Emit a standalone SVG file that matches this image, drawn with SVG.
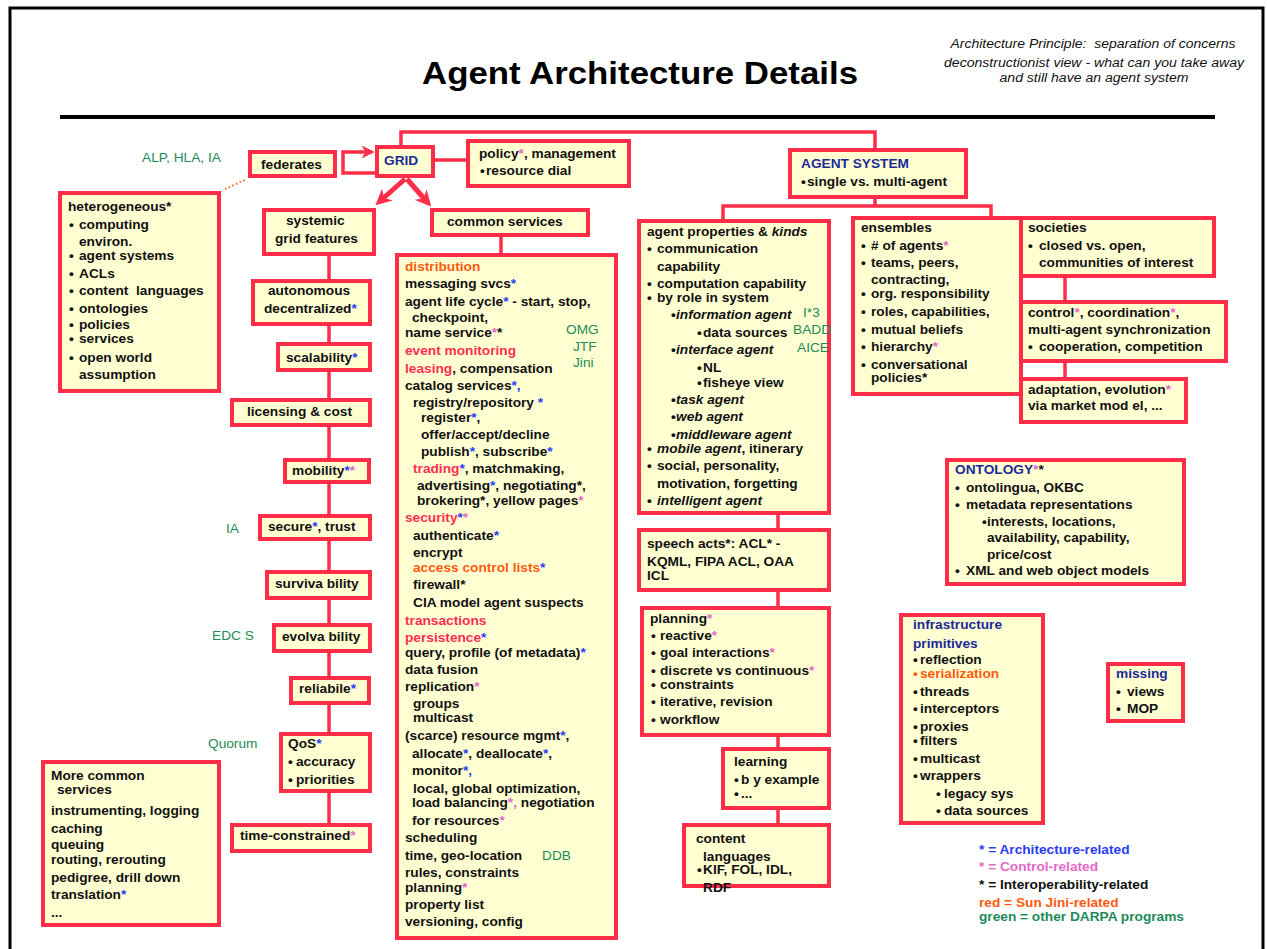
<svg xmlns="http://www.w3.org/2000/svg" width="1267" height="949" viewBox="0 0 1267 949">
<defs>
<style>
.box{fill:#ffffd2;stroke:#ff2d48;stroke-width:4}
.c{fill:none;stroke:#ff2d48;stroke-width:3.5}
.t{font-family:"Liberation Sans",Arial,sans-serif;font-weight:bold;font-size:13.7px;fill:#111}
.g{font-family:"Liberation Sans",Arial,sans-serif;font-size:13.7px;fill:#1e8a5a}
.b{fill:#2b3cf5}.p{fill:#e46ac8}.o{fill:#ff5a10}.r{fill:#ff2d55}.n{fill:#1c2a99}.gr{fill:#1e8a5a}
.i{font-style:italic}
.sub{font-family:"Liberation Sans",Arial,sans-serif;font-style:italic;font-size:12px;fill:#111}
</style>
<marker id="big" viewBox="0 0 10 10" refX="7" refY="5" markerWidth="16" markerHeight="16" markerUnits="userSpaceOnUse" orient="auto"><path d="M0,0 L10,5 L0,10 L3,5 z" fill="#ff2d48"/></marker>
<marker id="sm" viewBox="0 0 10 10" refX="8" refY="5" markerWidth="13" markerHeight="13" markerUnits="userSpaceOnUse" orient="auto"><path d="M0,0 L10,5 L0,10 L3,5 z" fill="#ff2d48"/></marker>
</defs>
<rect x="10" y="8" width="1253" height="960" fill="#fff" stroke="#000" stroke-width="3"/>
<g id="title">
<text x="640" y="84" text-anchor="middle" textLength="436" lengthAdjust="spacingAndGlyphs" style="font-family:'Liberation Sans',Arial,sans-serif;font-weight:bold;font-size:32px;fill:#000">Agent Architecture Details</text>
<text class="sub" x="1093" y="48" text-anchor="middle" textLength="285" lengthAdjust="spacingAndGlyphs">Architecture Principle:&#160; separation of concerns</text>
<text class="sub" x="1094" y="67" text-anchor="middle" textLength="300" lengthAdjust="spacingAndGlyphs">deconstructionist view - what can you take away</text>
<text class="sub" x="1094" y="82" text-anchor="middle" textLength="189" lengthAdjust="spacingAndGlyphs">and still have an agent system</text>
<line x1="60" y1="117" x2="1215" y2="117" stroke="#000" stroke-width="4"/>
</g>
<g id="connectors">
<path class="c" d="M401,145 V132 H875 V150"/>
<path class="c" d="M875,199 V206 H723 V221 M875,206 H991 V218"/>
<path class="c" d="M435,160 H468"/>
<path class="c" d="M377,173 H343 V152 H372" marker-end="url(#sm)" stroke-width="4"/>
<line x1="405" y1="179" x2="379" y2="202" stroke="#ff2d48" stroke-width="5" marker-end="url(#big)"/>
<line x1="407" y1="179" x2="428" y2="203" stroke="#ff2d48" stroke-width="5" marker-end="url(#big)"/>
<line x1="329" y1="254" x2="329" y2="825" class="c"/>
<line x1="501" y1="235" x2="501" y2="255" class="c"/>
<path class="c" d="M770,500 H778 V530"/>
<line x1="778" y1="590" x2="778" y2="608" class="c"/>
<line x1="778" y1="735" x2="778" y2="749" class="c"/>
<line x1="778" y1="808" x2="778" y2="825" class="c"/>
<line x1="1065" y1="276" x2="1065" y2="302" class="c"/>
<line x1="1065" y1="361" x2="1065" y2="379" class="c"/>
<line x1="225" y1="189" x2="245" y2="180" stroke="#ff6020" stroke-width="2" stroke-dasharray="1.5 2.5"/>
</g>
<g id="federates">
<text class="g" x="142" y="162">ALP, HLA, IA</text>
<rect class="box" x="250" y="152" width="85" height="24"/>
<text class="t" x="261" y="169">federates</text>
</g>
<g id="grid">
<rect class="box" x="377" y="147" width="56" height="29"/>
<text class="t n" x="384" y="165">GRID</text>
</g>
<g id="policy">
<rect class="box" x="468" y="141" width="161" height="45"/>
<text class="t" x="479" y="158">policy<tspan class="p">*</tspan>, management</text>
<text class="t" x="480" y="175">•<tspan x="486">resource dial</tspan></text>
</g>
<g id="agent-system">
<rect class="box" x="790" y="150" width="176" height="47"/>
<text class="t n" x="801" y="168">AGENT SYSTEM</text>
<text class="t" x="801" y="186">•<tspan x="807">single vs. multi-agent</tspan></text>
</g>
<g id="heterogeneous">
<rect class="box" x="60" y="193" width="159" height="198"/>
<text class="t" x="68" y="211">heterogeneous*</text>
<text class="t"><tspan x="69" y="229">•</tspan><tspan x="79" y="229">computing</tspan><tspan x="79" y="246">environ.</tspan><tspan x="69" y="260">•</tspan><tspan x="79" y="260">agent systems</tspan><tspan x="69" y="278">•</tspan><tspan x="79" y="278">ACLs</tspan><tspan x="69" y="295">•</tspan><tspan x="79" y="295">content&#160; languages</tspan><tspan x="69" y="313">•</tspan><tspan x="79" y="313">ontologies</tspan><tspan x="69" y="329">•</tspan><tspan x="79" y="329">policies</tspan><tspan x="69" y="343">•</tspan><tspan x="79" y="343">services</tspan><tspan x="69" y="362">•</tspan><tspan x="79" y="362">open world</tspan><tspan x="79" y="379">assumption</tspan></text>
</g>
<g id="systemic">
<rect class="box" x="264" y="210" width="110" height="44"/>
<text class="t" x="286" y="225">systemic</text>
<text class="t" x="275" y="243">grid features</text>
</g>
<g id="autonomous">
<rect class="box" x="253" y="281" width="117" height="43"/>
<text class="t" x="268" y="295">autonomous</text>
<text class="t" x="264" y="313">decentralized<tspan class="b">*</tspan></text>
</g>
<g id="scalability">
<rect class="box" x="278" y="344" width="92" height="26"/>
<text class="t" x="286" y="362">scalability<tspan class="b">*</tspan></text>
</g>
<g id="licensing">
<rect class="box" x="232" y="400" width="138" height="25"/>
<text class="t" x="247" y="416">licensing &amp; cost</text>
</g>
<g id="mobility">
<rect class="box" x="285" y="460" width="84" height="22"/>
<text class="t" x="292" y="475">mobility<tspan class="b">*</tspan><tspan class="p">*</tspan></text>
</g>
<g id="secure">
<text class="g" x="226" y="533">IA</text>
<rect class="box" x="260" y="516" width="110" height="23"/>
<text class="t" x="268" y="531">secure<tspan class="b">*</tspan>, trust</text>
</g>
<g id="survivability">
<rect class="box" x="267" y="572" width="103" height="26"/>
<text class="t" x="275" y="588">surviva bility</text>
</g>
<g id="evolvability">
<text class="g" x="212" y="640">EDC S</text>
<rect class="box" x="274" y="625" width="96" height="26"/>
<text class="t" x="282" y="641">evolva bility</text>
</g>
<g id="reliabile">
<rect class="box" x="291" y="678" width="78" height="25"/>
<text class="t" x="299" y="693">reliabile<tspan class="b">*</tspan></text>
</g>
<g id="qos">
<text class="g" x="208" y="748">Quorum</text>
<rect class="box" x="281" y="734" width="89" height="57"/>
<text class="t" x="288" y="748">QoS<tspan class="b">*</tspan></text>
<text class="t"><tspan x="288" y="766">•</tspan><tspan x="296" y="766">accuracy</tspan><tspan x="288" y="784">•</tspan><tspan x="296" y="784">priorities</tspan></text>
</g>
<g id="time-constrained">
<rect class="box" x="232" y="825" width="138" height="26"/>
<text class="t" x="240" y="840">time-constrained<tspan class="p">*</tspan></text>
</g>
<g id="more-common">
<rect class="box" x="43" y="762" width="176" height="163"/>
<text class="t"><tspan x="51" y="780">More common</tspan><tspan x="57" y="794">services</tspan><tspan x="51" y="815">instrumenting, logging</tspan><tspan x="51" y="833">caching</tspan><tspan x="51" y="849">queuing</tspan><tspan x="51" y="864">routing, rerouting</tspan><tspan x="51" y="882">pedigree, drill down</tspan><tspan x="51" y="899">translation<tspan class="b">*</tspan></tspan><tspan x="51" y="917">...</tspan></text>
</g>
<g id="common-services">
<rect class="box" x="432" y="210" width="156" height="25"/>
<text class="t" x="447" y="226">common services</text>
</g>
<g id="services-list">
<rect class="box" x="397" y="255" width="219" height="683"/>
<text class="t">
<tspan x="405" y="271" class="o">distribution</tspan>
<tspan x="405" y="288">messaging svcs<tspan class="b">*</tspan></tspan>
<tspan x="405" y="306">agent life cycle<tspan class="b">*</tspan> - start, stop,</tspan>
<tspan x="412" y="322">checkpoint,</tspan>
<tspan x="405" y="337">name service<tspan class="p">*</tspan>*</tspan>
<tspan x="405" y="355" class="r">event monitoring</tspan>
<tspan x="405" y="373"><tspan class="r">leasing</tspan>, compensation</tspan>
<tspan x="405" y="390">catalog services<tspan class="b">*,</tspan></tspan>
<tspan x="413" y="407">registry/repository <tspan class="b">*</tspan></tspan>
<tspan x="421" y="422">register<tspan class="b">*</tspan>,</tspan>
<tspan x="421" y="439">offer/accept/decline</tspan>
<tspan x="421" y="456">publish<tspan class="b">*</tspan>, subscribe<tspan class="b">*</tspan></tspan>
<tspan x="413" y="473"><tspan class="r">trading</tspan><tspan class="b">*</tspan>, matchmaking,</tspan>
<tspan x="417" y="490">advertising<tspan class="b">*</tspan>, negotiating*,</tspan>
<tspan x="417" y="505">brokering*, yellow pages<tspan class="p">*</tspan></tspan>
<tspan x="405" y="522"><tspan class="r">security</tspan><tspan class="b">*</tspan><tspan class="p">*</tspan></tspan>
<tspan x="413" y="540">authenticate<tspan class="b">*</tspan></tspan>
<tspan x="413" y="557">encrypt</tspan>
<tspan x="413" y="572"><tspan class="o">access control lists</tspan><tspan class="b">*</tspan></tspan>
<tspan x="413" y="589">firewall*</tspan>
<tspan x="413" y="607">CIA model agent suspects</tspan>
<tspan x="405" y="625" class="r">transactions</tspan>
<tspan x="405" y="642"><tspan class="r">persistence</tspan><tspan class="b">*</tspan></tspan>
<tspan x="405" y="657">query, profile (of metadata)<tspan class="b">*</tspan></tspan>
<tspan x="405" y="674">data fusion</tspan>
<tspan x="405" y="691">replication<tspan class="p">*</tspan></tspan>
<tspan x="413" y="708">groups</tspan>
<tspan x="413" y="722">multicast</tspan>
<tspan x="405" y="740">(scarce) resource mgmt<tspan class="b">*</tspan>,</tspan>
<tspan x="412" y="758">allocate<tspan class="b">*</tspan>, deallocate<tspan class="b">*</tspan>,</tspan>
<tspan x="412" y="775">monitor<tspan class="b">*,</tspan></tspan>
<tspan x="413" y="793">local, global optimization,</tspan>
<tspan x="412" y="807">load balancing<tspan class="p">*,</tspan> negotiation</tspan>
<tspan x="412" y="825">for resources<tspan class="p">*</tspan></tspan>
<tspan x="405" y="842">scheduling</tspan>
<tspan x="405" y="860">time, geo-location</tspan>
<tspan x="405" y="877">rules, constraints</tspan>
<tspan x="405" y="892">planning<tspan class="p">*</tspan></tspan>
<tspan x="405" y="909">property list</tspan>
<tspan x="405" y="926">versioning, config</tspan>
</text>
<text class="g"><tspan x="566" y="334">OMG</tspan><tspan x="573" y="351">JTF</tspan><tspan x="573" y="367">Jini</tspan><tspan x="542" y="860">DDB</tspan></text>
</g>
<g id="agent-properties">
<rect class="box" x="639" y="221" width="190" height="292"/>
<text class="t">
<tspan x="647" y="236">agent properties &amp; <tspan class="i">kinds</tspan></tspan>
<tspan x="647" y="253">•</tspan><tspan x="657" y="253">communication</tspan>
<tspan x="657" y="271">capability</tspan>
<tspan x="647" y="288">•</tspan><tspan x="657" y="288">computation capability</tspan>
<tspan x="647" y="302">•</tspan><tspan x="657" y="302">by role in system</tspan>
<tspan x="671" y="319">•</tspan><tspan x="676" y="319" class="i">information agent</tspan>
<tspan x="697" y="337">•</tspan><tspan x="703" y="337">data sources</tspan>
<tspan x="671" y="354">•</tspan><tspan x="676" y="354" class="i">interface agent</tspan>
<tspan x="697" y="372">•</tspan><tspan x="703" y="372">NL</tspan>
<tspan x="697" y="387">•</tspan><tspan x="703" y="387">fisheye view</tspan>
<tspan x="671" y="404">•</tspan><tspan x="676" y="404" class="i">task agent</tspan>
<tspan x="671" y="421">•</tspan><tspan x="676" y="421" class="i">web agent</tspan>
<tspan x="671" y="439">•</tspan><tspan x="676" y="439" class="i">middleware agent</tspan>
<tspan x="647" y="453">•</tspan><tspan x="657" y="453"><tspan class="i">mobile agent</tspan>, itinerary</tspan>
<tspan x="647" y="470">•</tspan><tspan x="657" y="470">social, personality,</tspan>
<tspan x="657" y="488">motivation, forgetting</tspan>
<tspan x="647" y="505">•</tspan><tspan x="657" y="505" class="i">intelligent agent</tspan>
</text>
<text class="g"><tspan x="803" y="317">I*3</tspan><tspan x="793" y="334">BADD</tspan><tspan x="797" y="352">AICE</tspan></text>
</g>
<g id="speech-acts">
<rect class="box" x="639" y="530" width="190" height="60"/>
<text class="t"><tspan x="647" y="548">speech acts*: ACL* -</tspan><tspan x="647" y="566">KQML, FIPA ACL, OAA</tspan><tspan x="647" y="580">ICL</tspan></text>
</g>
<g id="planning">
<rect class="box" x="642" y="608" width="187" height="127"/>
<text class="t">
<tspan x="650" y="623">planning<tspan class="p">*</tspan></tspan>
<tspan x="651" y="640">•</tspan><tspan x="660" y="640">reactive<tspan class="p">*</tspan></tspan>
<tspan x="651" y="657">•</tspan><tspan x="660" y="657">goal interactions<tspan class="p">*</tspan></tspan>
<tspan x="651" y="675">•</tspan><tspan x="660" y="675">discrete vs continuous<tspan class="p">*</tspan></tspan>
<tspan x="651" y="689">•</tspan><tspan x="660" y="689">constraints</tspan>
<tspan x="651" y="706">•</tspan><tspan x="660" y="706">iterative, revision</tspan>
<tspan x="651" y="724">•</tspan><tspan x="660" y="724">workflow</tspan>
</text>
</g>
<g id="learning">
<rect class="box" x="723" y="749" width="106" height="59"/>
<text class="t"><tspan x="734" y="766">learning</tspan><tspan x="734" y="784">•</tspan><tspan x="741" y="784">b y example</tspan><tspan x="734" y="798">•</tspan><tspan x="741" y="798">...</tspan></text>
</g>
<g id="content-languages">
<rect class="box" x="684" y="825" width="145" height="61"/>
<text class="t"><tspan x="696" y="843">content</tspan><tspan x="703" y="861">languages</tspan><tspan x="697" y="874">•</tspan><tspan x="703" y="874">KIF, FOL, IDL,</tspan><tspan x="703" y="892">RDF</tspan></text>
</g>
<g id="ensembles">
<rect class="box" x="853" y="218" width="168" height="176"/>
<text class="t">
<tspan x="861" y="232">ensembles</tspan>
<tspan x="861" y="250">•</tspan><tspan x="871" y="250"># of agents<tspan class="p">*</tspan></tspan>
<tspan x="861" y="267">•</tspan><tspan x="871" y="267">teams, peers,</tspan>
<tspan x="871" y="284">contracting,</tspan>
<tspan x="861" y="298">•</tspan><tspan x="871" y="298">org. responsibility</tspan>
<tspan x="861" y="316">•</tspan><tspan x="871" y="316">roles, capabilities,</tspan>
<tspan x="861" y="334">•</tspan><tspan x="871" y="334">mutual beliefs</tspan>
<tspan x="861" y="351">•</tspan><tspan x="871" y="351">hierarchy<tspan class="p">*</tspan></tspan>
<tspan x="861" y="369">•</tspan><tspan x="871" y="369">conversational</tspan>
<tspan x="871" y="382">policies*</tspan>
</text>
</g>
<g id="societies">
<rect class="box" x="1021" y="218" width="193" height="58"/>
<text class="t"><tspan x="1028" y="232">societies</tspan><tspan x="1028" y="250">•</tspan><tspan x="1039" y="250">closed vs. open,</tspan><tspan x="1039" y="267">communities of interest</tspan></text>
</g>
<g id="control">
<rect class="box" x="1021" y="302" width="205" height="59"/>
<text class="t"><tspan x="1028" y="317">control<tspan class="p">*</tspan>, coordination<tspan class="p">*</tspan>,</tspan><tspan x="1028" y="334">multi-agent synchronization</tspan><tspan x="1028" y="351">•</tspan><tspan x="1039" y="351">cooperation, competition</tspan></text>
</g>
<g id="adaptation">
<rect class="box" x="1021" y="379" width="165" height="43"/>
<text class="t"><tspan x="1028" y="394">adaptation, evolution<tspan class="p">*</tspan></tspan><tspan x="1028" y="410">via market mod el, ...</tspan></text>
</g>
<g id="ontology">
<rect class="box" x="947" y="460" width="237" height="124"/>
<text class="t">
<tspan x="955" y="474"><tspan class="n">ONTOLOGY</tspan><tspan class="p">*</tspan>*</tspan>
<tspan x="955" y="492">•</tspan><tspan x="966" y="492">ontolingua, OKBC</tspan>
<tspan x="955" y="509">•</tspan><tspan x="966" y="509">metadata representations</tspan>
<tspan x="982" y="526">•</tspan><tspan x="987" y="526">interests, locations,</tspan>
<tspan x="987" y="542">availability, capability,</tspan>
<tspan x="987" y="559">price/cost</tspan>
<tspan x="955" y="575">•</tspan><tspan x="966" y="575">XML and web object models</tspan>
</text>
</g>
<g id="infrastructure">
<rect class="box" x="901" y="615" width="142" height="208"/>
<text class="t">
<tspan x="913" y="629" class="n">infrastructure</tspan>
<tspan x="913" y="648" class="n">primitives</tspan>
<tspan x="913" y="664">•</tspan><tspan x="920" y="664">reflection</tspan>
<tspan x="913" y="678" class="o">•</tspan><tspan x="920" y="678" class="o">serialization</tspan>
<tspan x="913" y="696">•</tspan><tspan x="920" y="696">threads</tspan>
<tspan x="913" y="713">•</tspan><tspan x="920" y="713">interceptors</tspan>
<tspan x="913" y="731">•</tspan><tspan x="920" y="731">proxies</tspan>
<tspan x="913" y="745">•</tspan><tspan x="920" y="745">filters</tspan>
<tspan x="913" y="763">•</tspan><tspan x="920" y="763">multicast</tspan>
<tspan x="913" y="780">•</tspan><tspan x="920" y="780">wrappers</tspan>
<tspan x="936" y="798">•</tspan><tspan x="944" y="798">legacy sys</tspan>
<tspan x="936" y="815">•</tspan><tspan x="944" y="815">data sources</tspan>
</text>
</g>
<g id="missing">
<rect class="box" x="1108" y="664" width="75" height="57"/>
<text class="t"><tspan x="1116" y="678" class="n">missing</tspan><tspan x="1116" y="696">•</tspan><tspan x="1127" y="696">views</tspan><tspan x="1116" y="713">•</tspan><tspan x="1127" y="713">MOP</tspan></text>
</g>
<g id="legend">
<text class="t"><tspan x="979" y="854" class="b">* = Architecture-related</tspan><tspan x="979" y="871" class="p">* = Control-related</tspan><tspan x="979" y="889">* = Interoperability-related</tspan><tspan x="979" y="907" class="o">red = Sun Jini-related</tspan><tspan x="979" y="921" class="gr">green = other DARPA programs</tspan></text>
</g>
</svg>
